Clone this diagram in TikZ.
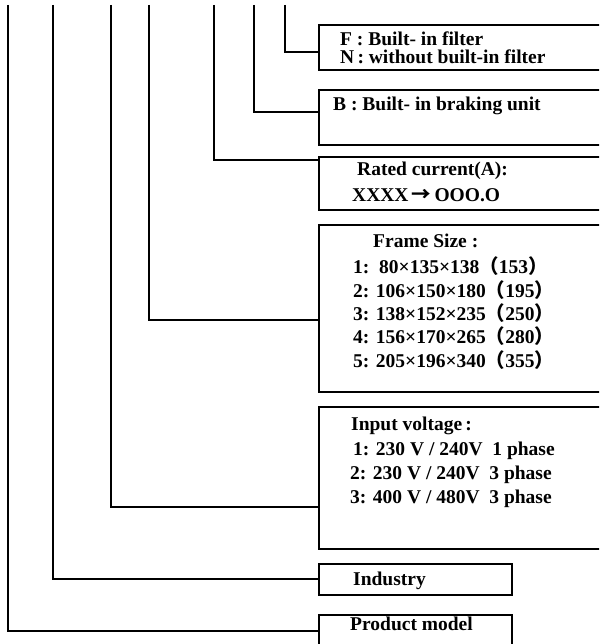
\documentclass[tikz,border=0pt]{standalone}
\usepackage{fontspec}
\setmainfont{Liberation Serif}
\newfontfamily\cjk{Noto Sans CJK SC}
\usetikzlibrary{calc}
\begin{document}
\begin{tikzpicture}[x=1pt,y=-1pt,
  conn/.style={line width=1.2pt},
  box/.style={draw,line width=1.6pt,inner sep=0pt,anchor=north west},
  wide/.style={box,minimum width=292pt},
  narrow/.style={box,minimum width=193pt},
  txt/.style={inner sep=0pt,anchor=base west,font=\bfseries\fontsize{19.5}{23}\selectfont}]
\useasboundingbox (0,0) rectangle (599,644);
\clip (0,0) rectangle (599,644);
% boxes
\node[wide,minimum height=45pt] (fbox) at (318,24) {};
\node[wide,minimum height=55pt] (bbox) at (318,89) {};
\node[wide,minimum height=53pt] (rbox) at (318,156) {};
\node[wide,minimum height=167pt] (sbox) at (318,224) {};
\node[wide,minimum height=142pt] (vbox) at (318,406) {};
\node[narrow,minimum height=31pt] (ibox) at (318,563) {};
\node[narrow,minimum height=40pt] (pbox) at (318,614) {};
% top ends of connectors
\coordinate (tF) at (285,5);
\coordinate (tB) at (254,5);
\coordinate (tR) at (214,5);
\coordinate (tS) at (149,5);
\coordinate (tV) at (111,5);
\coordinate (tI) at (53,5);
\coordinate (tP) at (8,5);
\draw[conn] (tF) |- ($(fbox.north west)+(0,28)$);
\draw[conn] (tB) |- ($(bbox.north west)+(0,23)$);
\draw[conn] (tR) |- ($(rbox.north west)+(0,4)$);
\draw[conn] (tS) |- ($(sbox.north west)+(0,96)$);
\draw[conn] (tV) |- ($(vbox.north west)+(0,101)$);
\draw[conn] (tI) |- ($(ibox.north west)+(0,16)$);
\draw[conn] (tP) |- ($(pbox.north west)+(0,17)$);
% texts
\node[txt] (f1) at (340,46) {F : Built- in filter};
\node[txt] (f2) at (340,64) {N\,: without built-in filter};
\node[txt] (b1) at (333,111) {B : Built- in braking unit};
\node[txt] (r1) at (357,176) {Rated current(A):};
\node[txt] (r2) at (352,202) {XXXX\,{\cjk →}\,OOO.O};
\node[txt] (s0) at (373,247) {Frame Size :};
\node[txt] (s1) at (353,273) {1:\ \ 80×135×138{\cjk （}153{\cjk ）}};
\node[txt] (s2) at (353,297) {2: 106×150×180{\cjk （}195{\cjk ）}};
\node[txt] (s3) at (353,320) {3: 138×152×235{\cjk （}250{\cjk ）}};
\node[txt] (s4) at (353,343) {4: 156×170×265{\cjk （}280{\cjk ）}};
\node[txt] (s5) at (353,367) {5: 205×196×340{\cjk （}355{\cjk ）}};
\node[txt] (v0) at (351,430) {Input voltage\,:};
\node[txt] (v1) at (353,455) {1: 230 V / 240V\ \ 1 phase};
\node[txt] (v2) at (350,479) {2: 230 V / 240V\ \ 3 phase};
\node[txt] (v3) at (350,503) {3: 400 V / 480V\ \ 3 phase};
\node[txt] (i1) at (353,585) {Industry};
\node[txt] (p1) at (350,630) {Product model};
\end{tikzpicture}
\end{document}
